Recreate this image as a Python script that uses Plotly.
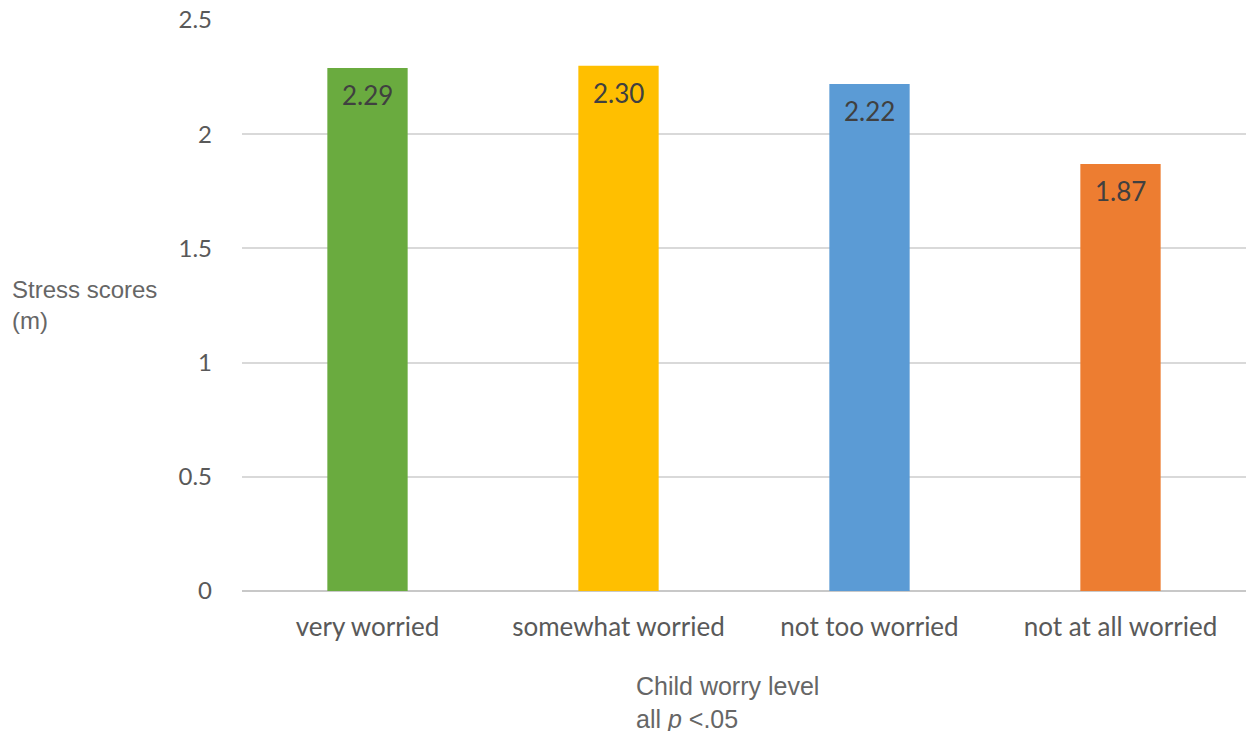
import plotly.graph_objects as go

# Mean stress scores by child worry level
categories = ["very worried", "somewhat worried", "not too worried", "not at all worried"]
stress_scores = [2.29, 2.30, 2.22, 1.87]
bar_colors = ["#6aab3f", "#ffbf00", "#5b9bd5", "#ed7d31"]
y_ticks = [0, 0.5, 1, 1.5, 2, 2.5]
y_tick_labels = ["0", "0.5", "1", "1.5", "2", "2.5"]

W, H = 1248, 731
L, R, T, B = 242, 2, 20, 140
pw, ph = W - L - R, H - T - B


def px_to_paper(x_px, y_px):
    """Convert page pixel coordinates to paper coordinates."""
    return (x_px - L) / pw, (H - B - y_px) / ph


fig = go.Figure()
fig.add_trace(go.Bar(
    x=categories,
    y=stress_scores,
    marker=dict(color=bar_colors, line=dict(width=0)),
    hoverinfo="skip",
))

# Value labels just inside the top of each bar
for cat, val in zip(categories, stress_scores):
    fig.add_annotation(
        x=cat, y=val, xref="x", yref="y",
        text=f"{val:.2f}", showarrow=False,
        yanchor="top", yshift=-9,
        font=dict(family="Lato, Open Sans, sans-serif", size=26, color="#404040"),
    )

# Axis titles
sx, sy = px_to_paper(10, 305)
fig.add_annotation(
    x=sx, y=sy, xref="paper", yref="paper", text="Stress scores<br>(m)",
    showarrow=False, align="left", xanchor="left", yanchor="middle",
    font=dict(family="Liberation Sans, Arial, sans-serif", size=24, color="#666666"),
)
cx, cy = px_to_paper(634, 702)
fig.add_annotation(
    x=cx, y=cy, xref="paper", yref="paper", text="Child worry level<br>all <i>p</i> <.05",
    showarrow=False, align="left", xanchor="left", yanchor="middle",
    font=dict(family="Liberation Sans, Arial, sans-serif", size=25, color="#666666"),
)

fig.update_layout(
    width=W, height=H,
    margin=dict(l=L, r=R, t=T, b=B, pad=0),
    paper_bgcolor="white", plot_bgcolor="white",
    bargap=0.68,
    showlegend=False,
    xaxis=dict(
        showgrid=False, showline=False, zeroline=False,
        ticks="", tickfont=dict(family="Lato, Open Sans, sans-serif", size=26, color="#595959"),
        ticklabelstandoff=18,
    ),
    yaxis=dict(
        range=[0, 2.5], tickvals=y_ticks, ticktext=y_tick_labels,
        showgrid=True, gridcolor="#d9d9d9", gridwidth=2,
        zeroline=True, zerolinecolor="#c8c8c8", zerolinewidth=2,
        showline=False, ticks="",
        tickfont=dict(family="Lato, Open Sans, sans-serif", size=24, color="#595959"),
        ticklabelstandoff=29,
    ),
)

fig.write_html("out.html")
